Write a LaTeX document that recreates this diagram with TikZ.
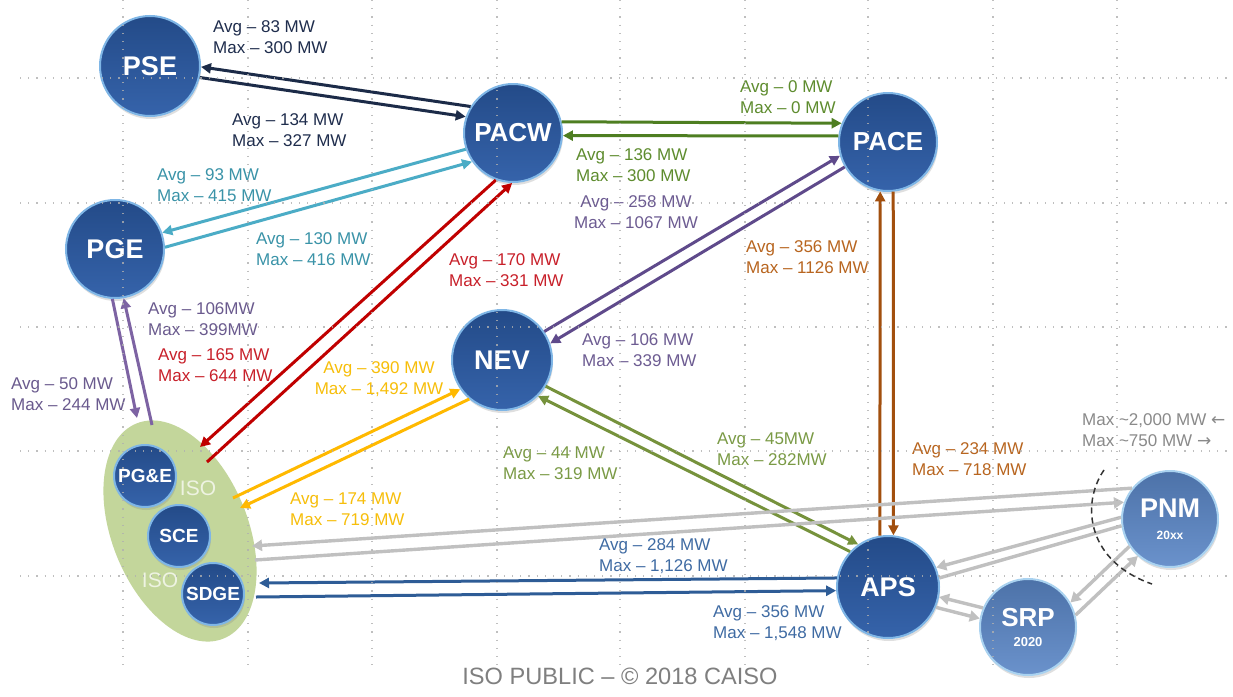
\documentclass[tikz,border=0pt]{standalone}
\usepackage{fontspec}
\setmainfont{Liberation Sans}
\newfontfamily\arrowfont{DejaVu Sans}
\usetikzlibrary{arrows.meta,shadows,shapes.geometric}
\definecolor{navyL}{HTML}{1C2B48}
\definecolor{navyT}{HTML}{1F2D4D}
\definecolor{tealL}{HTML}{4BACC6}
\definecolor{tealT}{HTML}{3A93A8}
\definecolor{grnL}{HTML}{4E7E21}
\definecolor{grnT}{HTML}{5E8C2E}
\definecolor{purL}{HTML}{5F4A8B}
\definecolor{purT}{HTML}{6D5C92}
\definecolor{brnL}{HTML}{A24F0E}
\definecolor{brnT}{HTML}{B8651F}
\definecolor{redL}{HTML}{C00000}
\definecolor{redT}{HTML}{C8202A}
\definecolor{yelL}{HTML}{FFB900}
\definecolor{yelT}{HTML}{F7BE0A}
\definecolor{olvL}{HTML}{76923C}
\definecolor{olvT}{HTML}{7A9A45}
\definecolor{pur2L}{HTML}{7D63A3}
\definecolor{pur2T}{HTML}{6A5A8E}
\definecolor{gryL}{HTML}{C0C0C0}
\definecolor{gryT}{HTML}{8A8A8A}
\definecolor{bluL}{HTML}{2E5C96}
\definecolor{bluT}{HTML}{3F6BA3}
\definecolor{busfill}{HTML}{2B5BA6}
\definecolor{busrim}{HTML}{7FB6E6}
\definecolor{busfillB}{HTML}{5A86C6}
\definecolor{busrimB}{HTML}{A9D2F0}
\definecolor{isogreen}{HTML}{C3D69B}
\definecolor{isotext}{HTML}{EEF3E2}
\definecolor{gridc}{HTML}{B0B0B0}
\definecolor{footgray}{HTML}{7F7F7F}
\tikzset{
  bus/.style={circle, inner sep=0pt, minimum size=#1, draw=busrim, line width=2pt,
    top color=busfill!82!black, bottom color=busfill!95!white, text=white,
    font=\bfseries\fontsize{27}{27}\selectfont,
    drop shadow={opacity=0.25, shadow xshift=1pt, shadow yshift=-3pt}},
  busB/.style={bus=#1, draw=busrimB, top color=busfillB!85!black, bottom color=busfillB!90!white},
  smallbus/.style={bus=#1, font=\bfseries\fontsize{19}{19}\selectfont},
  link/.style={line width=3pt, line cap=butt},
  flow/.style={link, -{Triangle[length=10pt,width=10pt]}},
  glink/.style={gryL, line width=3.4pt},
  gflow/.style={glink, -{Triangle[length=10pt,width=11pt]}},
  lab/.style={inner sep=0pt, anchor=north west, align=left, font=\fontsize{17}{21}\selectfont},
  labc/.style={lab, anchor=north, align=center},
  gridline/.style={gridc, line width=1.2pt, dash pattern=on 1.2pt off 7pt, opacity=0.8},
}
\begin{document}
\begin{tikzpicture}[x=1pt,y=-1pt]
\useasboundingbox (0,0) rectangle (1233,696);
\fill[white] (0,0) rectangle (1233,696);

% ISO ellipse
\node[ellipse, fill=isogreen, minimum width=232pt, minimum height=136pt, inner sep=0pt, rotate=-68] (iso) at (180,531) {};

% nodes
\node[bus=100pt] (pse)  at (150,66)  {PSE};
\node[bus=98pt, font=\bfseries\fontsize{26}{26}\selectfont] (pacw) at (513,133) {PACW};
\node[bus=98pt, font=\bfseries\fontsize{26}{26}\selectfont] (pace) at (888,142) {PACE};
\node[bus=98pt]  (pge)  at (115,249) {PGE};
\node[bus=100pt] (nev)  at (502,360) {NEV};
\node[bus=102pt] (aps)  at (888,587) {APS};
\node[busB=96pt, align=center, font=\bfseries\fontsize{26}{20}\selectfont] (srp) at (1028,627) {SRP\\{\fontsize{13}{13}\selectfont 2020}};
\node[busB=96pt, align=center, font=\bfseries\fontsize{27}{22}\selectfont] (pnm) at (1170,519) {PNM\\{\fontsize{12}{12}\selectfont 20xx}};
\node[smallbus=62pt] (pgne) at (145,476) {PG\&E};
\node[smallbus=62pt] (sce)  at (179,536) {SCE};
\node[smallbus=62pt] (sdge) at (213,594) {SDGE};
\node[text=isotext, font=\fontsize{21}{21}\selectfont, inner sep=0pt] (isoA) at (198,488) {ISO};
\node[text=isotext, font=\fontsize{21}{21}\selectfont, inner sep=0pt] (isoB) at (160,580) {ISO};

% ISO-side end points
\coordinate (isoRedIn)   at (200,447);
\coordinate (isoRedOut)  at (207,462);
\coordinate (isoYelOut)  at (233,498);
\coordinate (isoYelIn)   at (240,508);
\coordinate (isoPurIn)   at (137,418);
\coordinate (isoPurOut)  at (152,425);
\coordinate (isoGrayIn)  at (252,546);
\coordinate (isoGrayOut) at (255,560);
\coordinate (isoBlueIn)  at (259,583);
\coordinate (isoBlueOut) at (256,597);

% connectors
\draw[flow, navyL] (pacw.148) -- (pse.-1);
\draw[flow, navyL] (pse.-13) -- (pacw.161);
\draw[flow, tealL] (pacw.199) -- (pge.19);
\draw[flow, tealL] (pge.2) -- (pacw.215);
\draw[flow, grnL] (pacw.13) -- (pace.158);
\draw[flow, grnL] (pace.173) -- (pacw.-3);
\draw[flow, purL] (nev.34) -- (pace.196);
\draw[flow, purL] (pace.210) -- (nev.19);
\draw[flow, brnL] (aps.99) -- (pace.261);
\draw[flow, brnL] (pace.276) -- (aps.84);
\draw[flow, redL] (pacw.250) -- (isoRedIn);
\draw[flow, redL] (isoRedOut) -- (pacw.269);
\draw[flow, yelL] (isoYelOut) -- (nev.215);
\draw[flow, yelL] (nev.230) -- (isoYelIn);
\draw[flow, olvL] (nev.-31) -- (aps.125);
\draw[flow, olvL] (aps.137) -- (nev.-45);
\draw[flow, pur2L] (pge.267) -- (isoPurIn);
\draw[flow, pur2L] (isoPurOut) -- (pge.280);
\draw[flow, bluL] (aps.170) -- (isoBlueIn);
\draw[flow, bluL] (isoBlueOut) -- (aps.184);
\draw[gflow] (pnm.141) -- (isoGrayIn);
\draw[gflow] (isoGrayOut) -- (pnm.160);
\draw[gflow] (pnm.178) -- (aps.22);
\draw[glink] (aps.10) -- (pnm.188);
\draw[gflow] (srp.157) -- (aps.-11);
\draw[gflow] (aps.-23) -- (srp.170);
\draw[gflow] (pnm.214) -- (srp.30);
\draw[gflow] (srp.14) -- (pnm.229);

% dashed boundary
\draw[black!80, line width=1.5pt, dash pattern=on 6pt off 4pt] (1104,470) .. controls (1080,505) and (1088,562) .. (1152,584);

% labels
\node[lab, text=navyT] (l1) at (213,20) {Avg -- 83 MW\\Max -- 300 MW};
\node[lab, text=navyT] (l2) at (232,113) {Avg -- 134 MW\\Max -- 327 MW};
\node[lab, text=tealT] (l3) at (157,168) {Avg -- 93 MW\\Max -- 415 MW};
\node[lab, text=tealT] (l4) at (256,232) {Avg -- 130 MW\\Max -- 416 MW};
\node[lab, text=grnT] (l5) at (740,80) {Avg -- 0 MW\\Max -- 0 MW};
\node[lab, text=grnT] (l6) at (576,148) {Avg -- 136 MW\\Max -- 300 MW};
\node[labc, text=purT] (l7) at (636,195) {Avg -- 258 MW\\Max -- 1067 MW};
\node[lab, text=brnT] (l8) at (746,240) {Avg -- 356 MW\\Max -- 1126 MW};
\node[lab, text=redT] (l9) at (449,253) {Avg -- 170 MW\\Max -- 331 MW};
\node[lab, text=purT] (l10) at (582,333) {Avg -- 106 MW\\Max -- 339 MW};
\node[lab, text=pur2T] (l11) at (148,302) {Avg -- 106MW\\Max -- 399MW};
\node[lab, text=redT] (l12) at (158,348) {Avg -- 165 MW\\Max -- 644 MW};
\node[lab, text=pur2T] (l13) at (11,377) {Avg -- 50 MW\\Max -- 244 MW};
\node[labc, text=yelT] (l14) at (379,361) {Avg -- 390 MW\\Max -- 1,492 MW};
\node[lab, text=yelT] (l15) at (290,493) {Avg -- 174 MW\\Max -- 719 MW};
\node[lab, text=olvT] (l16) at (503,447) {Avg -- 44 MW\\Max -- 319 MW};
\node[lab, text=olvT] (l17) at (717,433) {Avg -- 45MW\\Max -- 282MW};
\node[lab, text=brnT] (l18) at (912,442) {Avg -- 234 MW\\Max -- 718 MW};
\node[lab, text=gryT] (l19) at (1082,413) {Max \textasciitilde 2,000 MW {\arrowfont ←}\\Max \textasciitilde 750 MW {\arrowfont →}};
\node[lab, text=bluT] (l20) at (599,538) {Avg -- 284 MW\\Max -- 1,126 MW};
\node[lab, text=bluT] (l21) at (713,605) {Avg -- 356 MW\\Max -- 1,548 MW};

\node[inner sep=0pt, anchor=north, text=footgray, font=\fontsize{23.6}{24}\selectfont] (foot) at (620,668) {ISO PUBLIC -- © 2018 CAISO};

% guide grid
\foreach \yy in {78,203,327,451,576} \draw[gridline] (20,\yy) -- (1233,\yy);
\foreach \xx in {123,248,372,497,620,745,868,993,1117} \draw[gridline] (\xx,0) -- (\xx,672);
\end{tikzpicture}
\end{document}
